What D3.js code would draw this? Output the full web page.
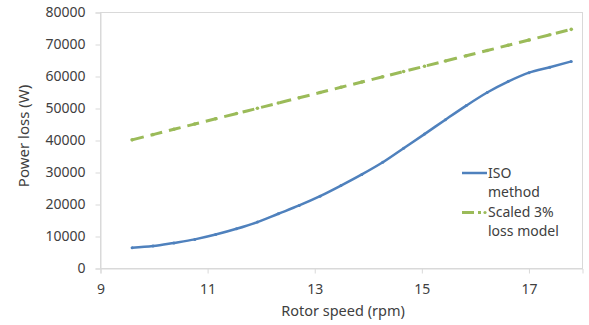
<!DOCTYPE html>
<html>
<head>
<meta charset="utf-8">
<script src="https://cdn.jsdelivr.net/npm/d3@7"></script>
<style>
  body { margin: 0; background: #fff; }
  text { font-family: "Noto Sans", sans-serif; fill: #404040; }
</style>
</head>
<body>
<script>
// data
var rotorSpeed = [9.59, 9.98, 10.37, 10.76, 11.15, 11.54, 11.93, 12.32, 12.71, 13.10, 13.49,
                  13.88, 14.27, 14.66, 15.05, 15.44, 15.83, 16.22, 16.61, 17.00, 17.39, 17.79];
var isoLoss = [6500, 7000, 8000, 9100, 10600, 12400, 14500, 17100, 19700, 22600, 25900,
               29400, 33200, 37600, 42000, 46500, 50900, 55000, 58400, 61200, 62900, 64700];
var scaledLoss = [40200, 41850, 43500, 45140, 46780, 48420, 50060, 51700, 53350, 54990, 56630,
                  58270, 59910, 61550, 63200, 64840, 66480, 68120, 69760, 71400, 73050, 74730];
var xTicks = [9, 11, 13, 15, 17];
var yTicks = [0, 10000, 20000, 30000, 40000, 50000, 60000, 70000, 80000];
var seriesNames = [["ISO", "method"], ["Scaled 3%", "loss model"]];

var blue = '#4f81bd';
var green = '#9bbb59';
var grey = '#d9d9d9';

var width = 589, height = 325;
var margin = {top: 12.5, right: 6.5, bottom: 56.5, left: 100.5};
var w = width - margin.left - margin.right;
var h = height - margin.top - margin.bottom;

var svg = d3.select('body').append('svg')
            .attr('width', width)
            .attr('height', height);

var xScale = d3.scaleLinear().domain([9, 18]).range([0, w]);
var yScale = d3.scaleLinear().domain([0, 80000]).range([h, 0]);

var focus = svg.append('g')
            .attr('transform', 'translate(' + margin.left + ',' + margin.top + ')');

// plot area border
focus.append('rect')
     .attr('width', w)
     .attr('height', h)
     .attr('fill', 'none')
     .attr('stroke', grey);

// axes
var yAxis = focus.append('g')
     .call(d3.axisLeft(yScale).tickValues(yTicks).tickSize(5).tickPadding(10).tickFormat(d3.format('d')));
var xAxis = focus.append('g')
     .attr('transform', 'translate(0,' + h + ')')
     .call(d3.axisBottom(xScale).tickValues(xTicks).tickSize(5).tickPadding(11));

[xAxis, yAxis].forEach(function(ax) {
  ax.select('.domain').attr('stroke', grey);
  ax.selectAll('.tick line').attr('stroke', grey);
  ax.selectAll('.tick text')
    .style('font-family', '"Noto Sans", sans-serif')
    .style('font-size', '14px')
    .attr('fill', '#404040');
});

var isoData = rotorSpeed.map(function(x, i) { return [x, isoLoss[i]]; });
var scaledData = rotorSpeed.map(function(x, i) { return [x, scaledLoss[i]]; });

var line = d3.line()
             .x(function(d) { return xScale(d[0]); })
             .y(function(d) { return yScale(d[1]); })
             .curve(d3.curveMonotoneX);

focus.append('path')
     .datum(scaledData)
     .attr('fill', 'none')
     .attr('stroke', green)
     .attr('stroke-width', 3)
     .attr('stroke-dasharray', '12,7')
     .attr('d', line);

focus.selectAll('.dot-green')
     .data(scaledData)
     .enter().append('circle')
     .attr('class', 'dot-green')
     .attr('cx', function(d) { return xScale(d[0]); })
     .attr('cy', function(d) { return yScale(d[1]); })
     .attr('r', 1.8)
     .attr('fill', green);

focus.append('path')
     .datum(isoData)
     .attr('fill', 'none')
     .attr('stroke', blue)
     .attr('stroke-width', 2.5)
     .attr('d', line);

focus.selectAll('.dot-blue')
     .data(isoData)
     .enter().append('circle')
     .attr('class', 'dot-blue')
     .attr('cx', function(d) { return xScale(d[0]); })
     .attr('cy', function(d) { return yScale(d[1]); })
     .attr('r', 1.5)
     .attr('fill', blue);

// legend
var legend = svg.append('g').attr('transform', 'translate(462,0)');
legend.append('line')
      .attr('x1', 0).attr('x2', 25).attr('y1', 173).attr('y2', 173)
      .attr('stroke', blue).attr('stroke-width', 2.5);
legend.append('line')
      .attr('x1', 0).attr('x2', 19).attr('y1', 212.5).attr('y2', 212.5)
      .attr('stroke', green).attr('stroke-width', 3).attr('stroke-dasharray', '12,4');
legend.append('circle')
      .attr('cx', 23).attr('cy', 212.5).attr('r', 1.6).attr('fill', green);

var legendY = [[178, 197], [217, 236]];
seriesNames.forEach(function(lines, i) {
  lines.forEach(function(t, j) {
    legend.append('text')
          .attr('x', 26)
          .attr('y', legendY[i][j])
          .style('font-size', '14px')
          .text(t);
  });
});

// titles
svg.append('text')
   .attr('text-anchor', 'middle')
   .attr('transform', 'translate(' + 29 + ',' + 136 + ')rotate(-90)')
   .style('font-size', '15px')
   .text('Power loss (W)');
svg.append('text')
   .attr('text-anchor', 'middle')
   .attr('x', 343)
   .attr('y', 316)
   .style('font-size', '14.5px')
   .text('Rotor speed (rpm)');
</script>
</body>
</html>
